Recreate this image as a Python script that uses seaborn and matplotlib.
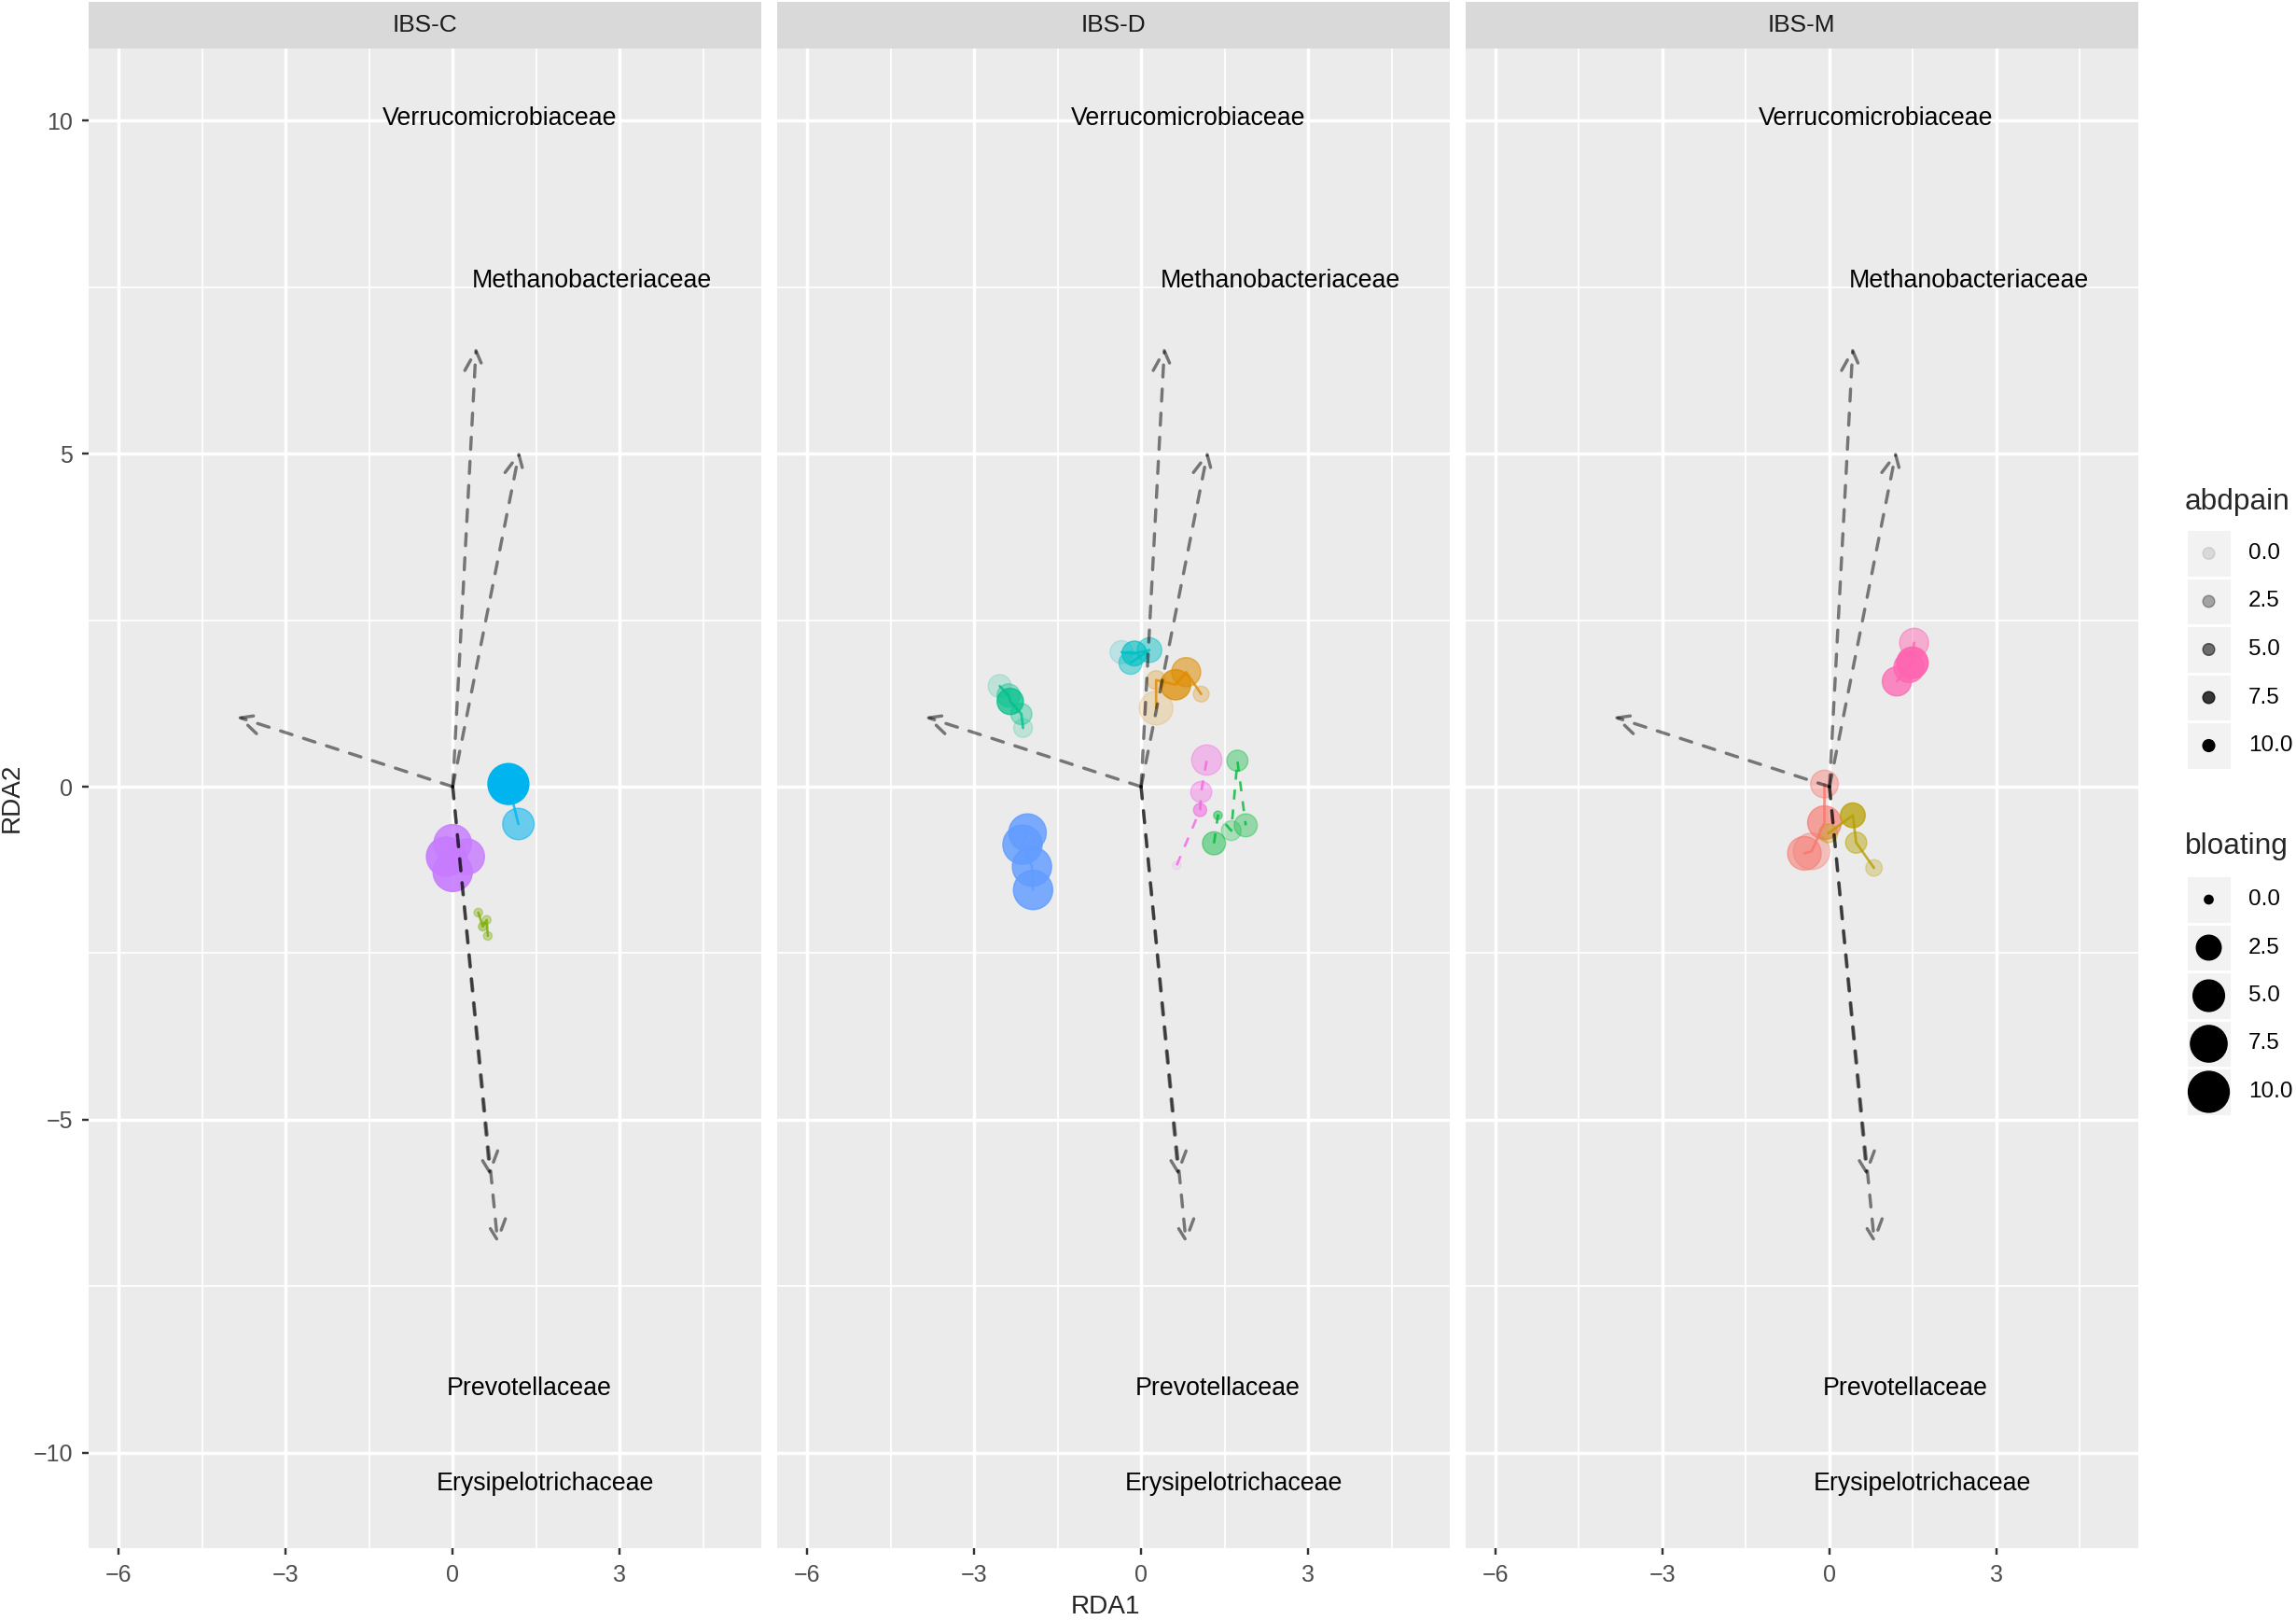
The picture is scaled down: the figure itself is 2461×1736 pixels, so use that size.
import numpy as np
import pandas as pd
import matplotlib.pyplot as plt
from matplotlib.patches import Rectangle
import seaborn as sns

# ---- data ----
panels = ["IBS-C", "IBS-D", "IBS-M"]

subjects = ["S01", "S02", "S03", "S04", "S05", "S06",
            "S07", "S08", "S09", "S10", "S11", "S12"]
subject_colors = ["#F8766D", "#DE8C00", "#B79F00", "#7CAE00", "#00BA38", "#00C08B",
                  "#00BFC4", "#00B4F0", "#619CFF", "#C77CFF", "#F564E3", "#FF64B0"]
dashed_subjects = ["S05", "S11"]

pt_group = (["IBS-C"] * 10) + (["IBS-D"] * 27) + (["IBS-M"] * 12)
pt_subject = (["S08"] * 2 + ["S10"] * 4 + ["S04"] * 4
              + ["S07"] * 4 + ["S02"] * 5 + ["S06"] * 5 + ["S09"] * 4 + ["S11"] * 4 + ["S05"] * 5
              + ["S12"] * 4 + ["S01"] * 4 + ["S03"] * 4)
pt_rda1 = [1.00, 1.18,
           0.00, -0.12, 0.25, 0.00,
           0.46, 0.54, 0.61, 0.63,
           -0.35, -0.12, 0.15, -0.19,
           0.27, 0.27, 0.62, 0.81, 1.08,
           -2.54, -2.38, -2.35, -2.15, -2.12,
           -2.04, -2.13, -1.96, -1.94,
           0.64, 1.06, 1.08, 1.18,
           1.31, 1.38, 1.62, 1.73, 1.88,
           1.52, 1.49, 1.43, 1.21,
           -0.09, -0.09, -0.32, -0.45,
           -0.02, 0.42, 0.48, 0.80]
pt_rda2 = [0.04, -0.56,
           -0.85, -1.05, -1.05, -1.28,
           -1.89, -2.10, -2.00, -2.24,
           2.02, 2.00, 2.05, 1.86,
           1.18, 1.60, 1.53, 1.72, 1.39,
           1.51, 1.37, 1.28, 1.09, 0.88,
           -0.69, -0.87, -1.20, -1.55,
           -1.18, -0.35, -0.08, 0.40,
           -0.85, -0.43, -0.66, 0.39, -0.58,
           2.16, 1.86, 1.79, 1.58,
           0.04, -0.54, -0.97, -1.00,
           -0.70, -0.43, -0.84, -1.22]
pt_abdpain = [10, 5,
              8, 9, 8, 9,
              3, 4, 3, 3,
              1, 6, 4, 4,
              1, 2, 7, 5, 2,
              1, 3, 7, 3, 1,
              8, 8, 8, 8,
              0, 5, 3, 3,
              4, 4, 2, 3, 3,
              4, 9, 7, 7,
              3.5, 6, 3, 5,
              3, 7, 4, 2]
pt_bloating = [10, 5,
               8, 9, 7, 9,
               0, 0, 0, 0,
               2, 2.5, 2.5, 2,
               6, 1, 4.5, 4, 0.5,
               2, 2, 3, 1.5, 1,
               8, 9, 9, 9,
               0, 0.2, 1.5, 4.5,
               2, 0, 1.2, 1.5, 2,
               4, 5, 4.5, 4,
               3.5, 6, 7.5, 6,
               1, 2.5, 1.5, 0.6]

# biplot arrows (same in every panel)
arrow_x = [0.42, 1.20, -3.88, 0.67, 0.81]
arrow_y = [6.60, 5.04, 1.05, -5.84, -6.86]
label_names = ["Verrucomicrobiaceae", "Methanobacteriaceae", "Prevotellaceae", "Erysipelotrichaceae"]
label_x = [0.84, 2.50, 1.37, 1.66]
label_y = [10.03, 7.59, -9.03, -10.46]

legend_values = [0.0, 2.5, 5.0, 7.5, 10.0]

df = pd.DataFrame({"group": pt_group, "subject": pt_subject, "RDA1": pt_rda1,
                   "RDA2": pt_rda2, "abdpain": pt_abdpain, "bloating": pt_bloating})
palette = dict(zip(subjects, subject_colors))
dashes = {s: ((4, 4) if s in dashed_subjects else "") for s in subjects}


def alpha_of(a):
    # ggplot alpha range 0.1 .. 1
    return 0.1 + 0.9 * np.asarray(a, dtype=float) / 10.0


def area_of(b):
    # ggplot area palette, size range 1..6 mm -> marker area in pt^2
    size_mm = 1 + 5 * np.sqrt(np.asarray(b, dtype=float) / 10.0)
    return (2.845 * size_mm + 0.95) ** 2


size_lookup = {v: float(area_of(v)) for v in sorted(set(pt_bloating))}

# ---- style ----
sns.set_theme(style="darkgrid", rc={
    "axes.facecolor": "#EBEBEB",
    "grid.color": "white",
    "axes.edgecolor": "none",
    "figure.facecolor": "white",
})
plt.rcParams["font.family"] = ["Liberation Sans", "DejaVu Sans"]

W, H, DPI = 2461, 1736, 175
fig, axes = plt.subplots(1, 3, figsize=(W / DPI, H / DPI), sharex=True, sharey=True)
fig.subplots_adjust(left=95 / W, right=2291.5 / W, bottom=1 - 1659 / H, top=1 - 52 / H,
                    wspace=17 / 720)

strip_h = 50 / 1607

for ax, panel in zip(axes, panels):
    sub = df[df["group"] == panel].reset_index(drop=True)

    sns.scatterplot(data=sub, x="RDA1", y="RDA2", hue="subject", palette=palette,
                    size="bloating", sizes=size_lookup, legend=False, ax=ax,
                    linewidth=0.6, zorder=2)
    pts = ax.collections[-1]
    fc = pts.get_facecolors().copy()
    fc[:, 3] = alpha_of(sub["abdpain"])
    pts.set_facecolors(fc)
    pts.set_edgecolors(fc)

    sns.lineplot(data=sub, x="RDA1", y="RDA2", hue="subject", palette=palette,
                 style="subject", dashes=dashes, sort=False, estimator=None,
                 legend=False, ax=ax, lw=1.1, alpha=0.8, zorder=3)

    for ex, ey in zip(arrow_x, arrow_y):
        ax.annotate("", xy=(ex, ey), xytext=(0, 0),
                    arrowprops=dict(arrowstyle="->,head_length=0.45,head_width=0.22",
                                    color=(0, 0, 0, 0.5), lw=1.4,
                                    linestyle=(0, (3.8, 3.8)),
                                    shrinkA=0, shrinkB=0, mutation_scale=20),
                    zorder=4)
    for name, tx, ty in zip(label_names, label_x, label_y):
        ax.text(tx, ty, name, ha="center", va="center", fontsize=11, color="black", zorder=5)

    ax.set_xlim(-6.54, 5.54)
    ax.set_ylim(-11.43, 11.08)
    ax.set_xticks([-6, -3, 0, 3])
    ax.set_xticks([-4.5, -1.5, 1.5, 4.5], minor=True)
    ax.set_yticks([-10, -5, 0, 5, 10])
    ax.set_yticks([-7.5, -2.5, 2.5, 7.5], minor=True)
    ax.grid(which="major", color="white", lw=1.4)
    ax.grid(which="minor", color="white", lw=0.7)
    ax.tick_params(which="major", length=2.75, width=1.0, color="#333333",
                   labelsize=10.3, labelcolor="#4D4D4D", pad=4.2,
                   bottom=True, left=(panel == panels[0]))
    ax.tick_params(which="minor", length=0)
    ax.set_xlabel("")
    ax.set_ylabel("")
    for sp in ax.spines.values():
        sp.set_visible(False)

    ax.add_patch(Rectangle((0, 1), 1, strip_h, transform=ax.transAxes, clip_on=False,
                           facecolor="#D9D9D9", edgecolor="none"))
    ax.text(0.5, 1 + strip_h / 2, panel, transform=ax.transAxes, ha="center",
            va="center", fontsize=10.8, color="#1A1A1A")

fig.text(1185 / W, 1 - 1722 / H, "RDA1", ha="center", va="center", fontsize=11.5)
fig.text(13 / W, 1 - 855 / H, "RDA2", ha="center", va="center", rotation=90, fontsize=11.5)

# ---- legends (drawn in pixel space) ----
lg = fig.add_axes([0, 0, 1, 1])
lg.set_xlim(0, W)
lg.set_ylim(H, 0)
lg.axis("off")
lg.patch.set_alpha(0)

key_x, key_w, key_h = 2343, 49, 51.5
rows_a = [593 + i * key_h for i in range(5)]
rows_b = [964 + i * key_h for i in range(5)]

lg.text(2342, 538, "abdpain", ha="left", va="center", fontsize=13)
lg.text(2342, 907, "bloating", ha="left", va="center", fontsize=13)
for yc in rows_a + rows_b:
    lg.add_patch(Rectangle((key_x, yc - key_h / 2), key_w, key_h,
                           facecolor="#F2F2F2", edgecolor="white", lw=1.2))

a_cols = [(0, 0, 0, a) for a in alpha_of(legend_values)]
lg.scatter([key_x + key_w / 2] * 5, rows_a, s=(2.845 * 1.5 + 0.95) ** 2,
           c=a_cols, edgecolors=a_cols, linewidths=0.6)
lg.scatter([key_x + key_w / 2] * 5, rows_b, s=area_of(legend_values), c="black",
           edgecolors="black", linewidths=0.6)
for v, ya, yb in zip(legend_values, rows_a, rows_b):
    lg.text(2410, ya, f"{v:.1f}", ha="left", va="center", fontsize=10, color="black")
    lg.text(2410, yb, f"{v:.1f}", ha="left", va="center", fontsize=10, color="black")

fig.savefig("out.png", dpi=DPI)
